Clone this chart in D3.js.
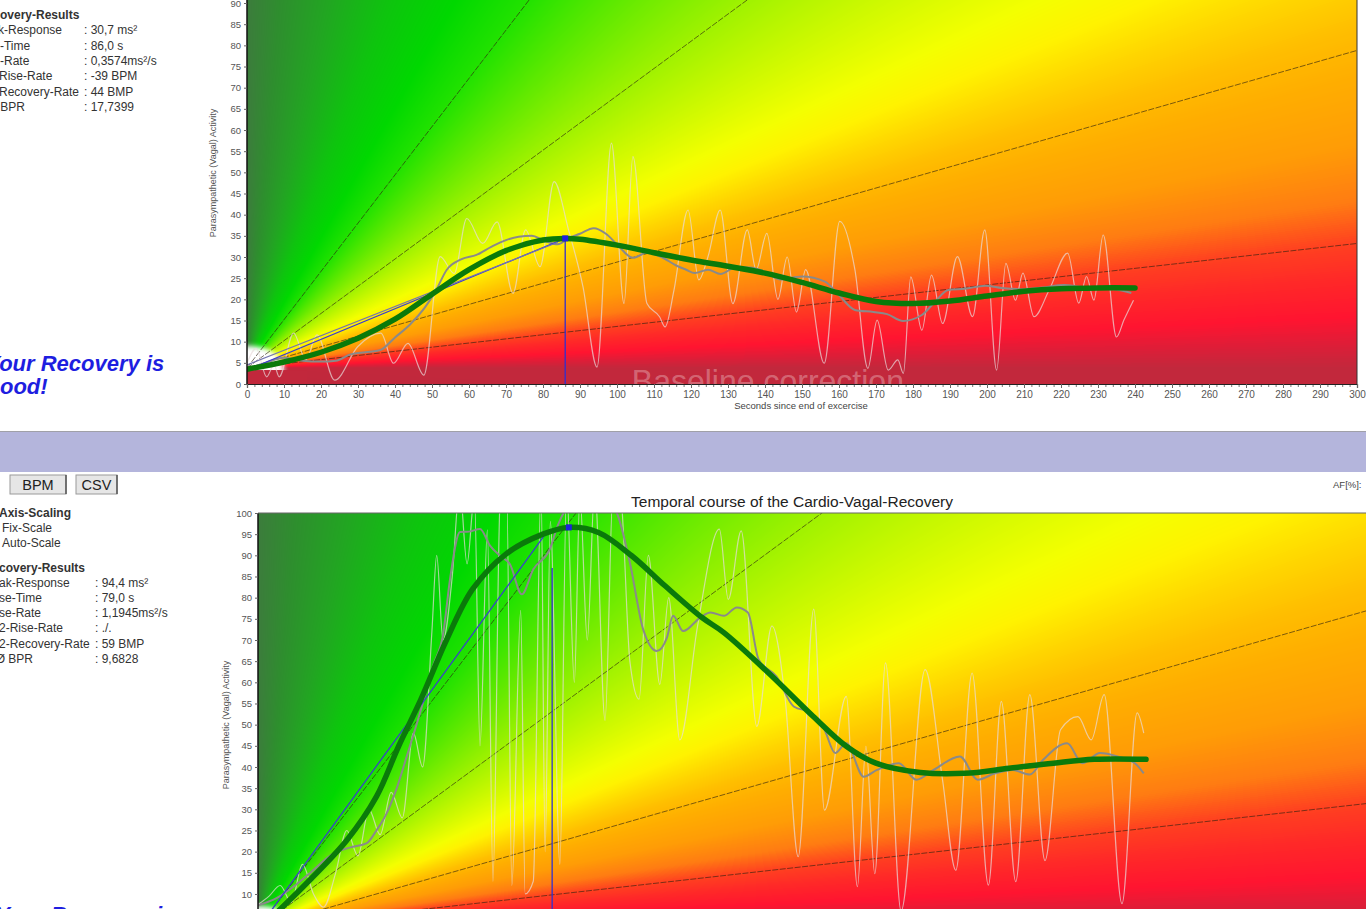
<!DOCTYPE html>
<html>
<head>
<meta charset="utf-8">
<script src="https://cdn.jsdelivr.net/npm/d3@7"></script>
<style>
body { margin: 0; background: #fff; overflow: hidden; }
svg { display: block; font-family: "Liberation Sans", Arial, sans-serif; }
</style>
</head>
<body>
<svg id="page" width="1366" height="909"></svg>
<script>
// ---------- data ----------
const xTicks = d3.range(0, 301, 10);
const xMinor = d3.range(0, 301, 2);
const topYTicks = d3.range(0, 91, 5);
const botYTicks = d3.range(10, 101, 5);

// rise-rate reference lines (slopes in units per second)
const zoneSlopes = [1.14, 0.643, 0.25, 0.098];
// background colour by angle (degrees, data space) above the baseline
const zoneAngles = [-90, 0, 1, 2.3, 4, 5.6, 7.5, 10, 13, 15, 17, 19.5, 22, 26, 32.7, 40, 48.7, 57, 66, 76, 84, 90];
const zoneColors = ["#b0283e", "#c2283c", "#dc1e38", "#ff1430", "#ff2828", "#ff4020", "#ff7c12", "#ff9c06",
  "#ffae00", "#ffbe00", "#ffd400", "#fff200", "#f4ff00", "#d4fa00", "#a0f200", "#66ea00", "#22e200",
  "#00d800", "#0ec40e", "#22a522", "#2e8e2e", "#3c7c3c"];

// upper plot (baseline corrected)
const topRaw = [[0,4.9],[2.5,8.4],[5.3,1.7],[7.3,4.5],[8.7,1.7],[12.6,12],[15.9,5.7],[18.9,11.6],[23.7,0.9],
  [29.9,8.8],[36.2,12],[39.6,4.9],[43.5,9.6],[47.8,2.1],[52.2,30.1],[56,26.1],[59.4,39.1],[63.7,33.2],
  [67.6,38.3],[71.9,21.4],[75.3,36.4],[79.2,27.7],[83,47.8],[86.9,36.4],[90.8,23],[94.6,4],[98.5,56.9],
  [101.9,19],[104.3,53.7],[108.1,19],[111.5,15.9],[113,13.5],[115.4,22.2],[119.2,41.1],[122.1,24.6],
  [124.6,30.1],[127.9,41.1],[131.3,19],[135.2,36.4],[137.6,27],[140.5,35.6],[143.5,20],[146,30],
  [148.5,17],[151,27],[156,4.9],[160.2,38.4],[164.3,27],[167.8,3.7],[170.3,15.1],[173.3,3.3],[175.9,5.7],
  [177.4,2.5],[179.4,25.3],[182.4,12.7],[185,25.7],[188,14.3],[192,30.1],[196.1,15.9],[199.4,36.4],
  [202.6,3.3],[205.1,28.5],[207.7,19.8],[209.7,26.2],[212.7,15.9],[216.8,22.2],[221.8,30.9],[224.8,19.1],
  [226.9,25.4],[228.9,19.8],[231.4,35.2],[235,11.1],[237,15.1],[239.6,19.8]];
const topMid = [[0,3.5],[5,5],[10,6.2],[15,5.5],[20,5.3],[24,5.5],[28,7],[32,7.5],[36,8],[40,11],[44,14],
  [48,18],[51,22],[54,27],[58,29.5],[62,30.5],[66,32.4],[70,34],[73.4,34.8],[77,35],[80,34],[84,33],
  [87,34.5],[90,35.5],[93.7,36.8],[97,35.5],[100,33],[104.3,29.8],[108,31],[112,30],[116,28],[118.7,27],
  [121,26.2],[124.6,27],[128,26],[132,27.5],[136,27.5],[140,26.5],[144,24.7],[150,25.4],[156.2,24.2],
  [160,21],[164.3,17.5],[169.3,17],[173,16.5],[177.3,14.9],[182.4,16.3],[186,19.5],[189.5,22.2],
  [194,22.5],[199.6,23.2],[204,22.7],[209.8,22.4],[215,22.8],[220.8,23.4],[225,23],[229.9,22.6],
  [235,22.3],[239,21.5]];
const topSmooth = [[0,3.5],[10,5.2],[20,7.5],[30,10.8],[40,15.3],[50,21.2],[60,27],[70,31.5],[80,34],
  [86,34.4],[90,34.2],[100,32.8],[110,31],[120,29.3],[130,27.8],[140,26.2],[150,24],[160,21.5],[170,19.5],
  [180,19],[190,19.6],[200,20.8],[210,21.9],[220,22.5],[230,22.7],[240,22.7]];
const topRise = [[[0,3.3],[86,34.4]], [[0,4.5],[84,33.5]]];
const topPeak = [86, 34.4];

// lower plot (temporal course)
const botRaw = [[0,7.5],[3,9.5],[6,12],[9,8],[12,17],[15,10],[17.7,6.9],[21,15],[24,25],[27,19],[30,30],
  [33,24],[36,34],[39,28],[42,48],[44.5,40],[47,72],[48.3,90],[50,70],[52.5,85],[54.5,106],[56.5,88],
  [58.5,104],[60,45],[62,96],[63.5,13],[65.5,104],[67.2,106],[68.6,12],[71,77],[72.2,10],[74.4,13],
  [76.5,106],[77.6,20],[79,98],[81.6,17],[83.4,106],[85.5,60],[87,104],[89,70],[91,106],[93.8,51],
  [96,106],[98,104],[100.5,65],[103,56],[105.5,90],[108.6,59.5],[111,80],[114,46.4],[118.8,73.3],
  [124.7,96.2],[127.1,79.6],[130.6,95.8],[134.8,49.6],[138.9,73.3],[142.5,55.9],[146,18.8],[150.2,77.3],
  [153.1,29.8],[159,56.7],[162,11.7],[164.3,44.9],[166.7,14.8],[169.6,64.6],[173.8,6],[180.3,63],
  [185,37],[188.6,15.6],[193,62.2],[197.4,12.1],[200.9,55.5],[204.8,12.9],[208.6,57.1],[212.7,17.9],
  [216.9,48.8],[221.6,51.9],[225.2,46.4],[228.7,57.1],[233.5,7.7],[237.6,52.8],[239.4,48]];
const botMid = [[0,7.3],[5,9],[10,12],[14,14.9],[20.4,19.6],[25,21],[29.4,22],[32,25],[34.8,29.1],
  [37.5,35],[40.2,42.5],[43.8,52.8],[47.3,63.8],[50.1,71.7],[51.9,84.4],[54.6,95.5],[57,95.6],[60,96.2],
  [62.7,92.3],[65.4,89.9],[68.1,87.9],[71.3,80.8],[74.4,86.7],[78.9,91.5],[81,97],[83.4,101],[88,103],
  [93,104],[97,100],[100.5,88.3],[104.1,72.5],[107.8,67.4],[110.5,70.5],[112.2,75.7],[114.9,72.1],
  [119.5,75.3],[122.3,76.5],[125.9,75.7],[129.4,77.7],[132.4,76.5],[135.3,65.4],[140.1,61.4],
  [144.8,54.3],[149.5,52.8],[153.1,48.8],[156,43.3],[159,45.6],[163.7,37.7],[167.3,39.3],[173.2,40.9],
  [177.9,37],[182.6,39.3],[189.7,42.5],[194.5,37],[199.2,38.5],[203.9,39.3],[208.6,38.2],[212.2,41.7],
  [218.7,45.6],[222.8,40.9],[227.6,43.3],[232.3,42.5],[237,40.9],[239.4,38.5]];
const botSmooth = [[0,1.5],[6,6.4],[14,13.3],[24,22.7],[32,33],[38,44.9],[44,55.9],[51,70.1],[58,82],
  [67,90.3],[77,95],[84,96.6],[92,95.4],[101,89.9],[110,82.8],[120,75.3],[126,71.7],[138,62.2],[150,52],
  [159,44.9],[167,40.9],[179,38.7],[191,38.5],[203,39.7],[215,40.9],[226,41.8],[240,41.8]];
const botRise = [[[0,1.8],[78,95.4]]];
const botPeak = [84, 96.6];

// side panel texts: [full text, hidden prefix, x of first visible char, bold]
const topLabels = [["Recovery-Results","Rec",0,true],["Peak-Response","Pea",-2],["Rise-Time","Rise",0],
  ["Rise-Rate","Rise",0],["HR2-Rise-Rate","HR2-",-1],["HR2-Recovery-Rate","HR2-",-1],["Ø BPR","Ø ",-3]];
const topValues = ["", "30,7 ms²", "86,0 s", "0,3574ms²/s", "-39 BPM", "44 BMP", "17,7399"];
const botLabels = [["Y-Axis-Scaling","Y-",-1,true],["Fix-Scale","",2],["Auto-Scale","",2],
  ["Recovery-Results","Re",-1,true],["Peak-Response","Pe",-1],["Rise-Time","Ri",-1],["Rise-Rate","Ri",-1],
  ["HR2-Rise-Rate","HR",-1],["HR2-Recovery-Rate","HR",-1],["Ø BPR","Ø ",5]];
const botValues = ["", "", "", "", "94,4 ms²", "79,0 s", "1,1945ms²/s", "./.", "59 BMP", "9,6828"];

// ---------- drawing ----------
const svg = d3.select("#page");
svg.append("rect").attr("width", 1366).attr("height", 909).attr("fill", "#fff");
const defs = svg.append("defs");
defs.append("filter").attr("id", "soft").append("feGaussianBlur").attr("stdDeviation", 2.5);

const zoneColor = d3.scaleLinear().domain(zoneAngles).range(zoneColors)
  .interpolate(d3.interpolateRgb).clamp(true);
const lut = d3.range(0, 1801).map(i => d3.rgb(zoneColor(i / 10 - 90)));

function zoneImage(x, y, base, px0, px1, py0, py1) {
  const w = px1 - px0, h = py1 - py0;
  const c = document.createElement("canvas");
  c.width = w; c.height = h;
  const ctx = c.getContext("2d");
  const img = ctx.createImageData(w, h);
  for (let j = 0; j < h; j++) {
    const v = y.invert(py0 + j + 0.5) - base;
    for (let i = 0; i < w; i++) {
      const t = x.invert(px0 + i + 0.5);
      const a = Math.atan2(v, t) * 180 / Math.PI;
      const col = lut[Math.max(0, Math.min(1800, Math.round((a + 90) * 10)))];
      const k = (j * w + i) * 4;
      img.data[k] = col.r; img.data[k + 1] = col.g; img.data[k + 2] = col.b; img.data[k + 3] = 255;
    }
  }
  ctx.putImageData(img, 0, 0);
  return c.toDataURL();
}

function clipLead(sel, full, prefix, visX) {
  let w = 0;
  if (prefix) { sel.text(prefix); w = sel.node().getComputedTextLength(); }
  sel.text(full).attr("x", visX - w);
}

function drawPlot(o) {
  const x = d3.scaleLinear().domain([0, 300]).range([o.left, o.left + 1110]);
  const y = d3.scaleLinear().domain([0, 100]).range([o.zero, o.zero - 423.3]);
  const id = "clip" + o.name;
  defs.append("clipPath").attr("id", id).append("rect")
    .attr("x", o.left).attr("y", o.top).attr("width", o.right - o.left).attr("height", o.bottom - o.top);
  const g = svg.append("g").attr("clip-path", `url(#${id})`);

  g.append("image")
    .attr("x", o.left).attr("y", o.top).attr("width", o.right - o.left).attr("height", o.bottom - o.top)
    .attr("preserveAspectRatio", "none")
    .attr("href", zoneImage(x, y, o.base, o.left, o.right, o.top, o.bottom));

  // pale patch near the origin
  g.append("ellipse").attr("cx", x(0.8)).attr("cy", y(o.base - 0.5))
    .attr("rx", 34).attr("ry", 24).attr("fill", "#fff").attr("filter", "url(#soft)");
  g.append("rect").attr("x", o.left).attr("y", y(o.base - 0.5)).attr("width", 60).attr("height", 60)
    .attr("fill", zoneColors[1]);

  if (o.watermark) {
    g.append("text").attr("x", x(104)).attr("y", o.zero + 8).attr("font-size", 32)
      .attr("fill", "#fff").attr("fill-opacity", 0.3).text(o.watermark);
  }

  const ln = d3.line().x(d => x(d[0])).y(d => y(d[1]));
  // reference rise-rate lines
  g.selectAll(".ref").data(zoneSlopes).join("path").attr("class", "ref")
    .attr("d", s => ln([[0, o.base], [300, o.base + 300 * s]]))
    .attr("fill", "none").attr("stroke", "#2e2210").attr("stroke-opacity", 0.7)
    .attr("stroke-width", 0.9).attr("stroke-dasharray", "6,1.5");

  const smooth = d3.line().x(d => x(d[0])).y(d => y(d[1])).curve(d3.curveMonotoneX);
  g.append("path").attr("d", smooth(o.raw)).attr("fill", "none")
    .attr("stroke", "#e8dcdc").attr("stroke-opacity", 0.7).attr("stroke-width", 1.2);
  g.append("path").attr("d", smooth(o.mid)).attr("fill", "none")
    .attr("stroke", "#8a8a8a").attr("stroke-width", 2);

  const riseCol = ["#3a3ad2", "#7474b0"];
  o.rise.forEach((r, i) => {
    g.append("path").attr("d", ln(r)).attr("fill", "none")
      .attr("stroke", riseCol[i]).attr("stroke-width", 1.2);
  });
  g.append("line").attr("x1", x(o.vline[0])).attr("x2", x(o.vline[0]))
    .attr("y1", y(0)).attr("y2", y(o.vline[1]))
    .attr("stroke", "#3030d0").attr("stroke-width", 1.3);

  g.append("path").attr("d", ln.curve(d3.curveCatmullRom)(o.smooth)).attr("fill", "none")
    .attr("stroke", "#0a7a0a").attr("stroke-width", 5.5).attr("stroke-linecap", "round");
  g.append("rect").attr("x", x(o.peak[0]) - 3).attr("y", y(o.peak[1]) - 3)
    .attr("width", 6).attr("height", 6).attr("fill", "#2020e0");

  // axes
  const ax = svg.append("g").attr("font-family", "Liberation Sans, Arial, sans-serif");
  ax.append("g").attr("transform", `translate(${o.left},0)`)
    .call(d3.axisLeft(y).tickValues(o.yTicks).tickSize(3).tickPadding(3))
    .call(a => a.select(".domain").attr("stroke", "#111").attr("stroke-width", 1.5)
      .attr("d", `M0,${o.top}V${Math.min(o.zero, 909)}`))
    .call(a => a.selectAll(".tick line").attr("stroke", "#666"))
    .call(a => a.selectAll(".tick text").attr("fill", "#555").attr("font-size", 9.5));
  if (o.xAxis) {
    ax.append("g").attr("transform", `translate(0,${o.zero})`)
      .call(d3.axisBottom(x).tickValues(xMinor).tickSize(3).tickFormat(""))
      .call(a => a.select(".domain").remove())
      .call(a => a.selectAll(".tick line").attr("stroke", "#777"));
    ax.append("g").attr("transform", `translate(0,${o.zero})`)
      .call(d3.axisBottom(x).tickValues(xTicks).tickSize(4).tickPadding(3))
      .call(a => a.select(".domain").attr("stroke", "#222").attr("stroke-width", 1.2))
      .call(a => a.selectAll(".tick line").attr("stroke", "#666"))
      .call(a => a.selectAll(".tick text").attr("fill", "#555").attr("font-size", 10));
    svg.append("line").attr("x1", o.right).attr("x2", o.right).attr("y1", o.top).attr("y2", o.zero)
      .attr("stroke", "#333");
  }

  svg.append("text").attr("transform", `translate(${o.ylabX},${o.ylabY}) rotate(-90)`)
    .attr("text-anchor", "middle").attr("font-size", 9).attr("fill", "#555")
    .text("Parasympathetic (Vagal) Activity");
  return x;
}

// upper plot
drawPlot({ name: "Top", left: 247, right: 1357, top: 0, bottom: 384, zero: 384, base: 3.8,
  raw: topRaw, mid: topMid, smooth: topSmooth, rise: topRise, peak: topPeak, vline: topPeak,
  watermark: "Baseline correction", ylabX: 216, ylabY: 173, yTicks: topYTicks, xAxis: true });
svg.append("text").attr("x", 801).attr("y", 409).attr("text-anchor", "middle")
  .attr("font-size", 9.5).attr("fill", "#444").text("Seconds since end of excercise");

// separator band
svg.append("rect").attr("x", 0).attr("y", 432).attr("width", 1366).attr("height", 40).attr("fill", "#b4b5dc");
svg.append("line").attr("x1", 0).attr("x2", 1366).attr("y1", 431.5).attr("y2", 431.5).attr("stroke", "#a0a0a8");

// lower plot
drawPlot({ name: "Bot", left: 258, right: 1366, top: 513, bottom: 909, zero: 936.3, base: 2,
  raw: botRaw, mid: botMid, smooth: botSmooth, rise: botRise, peak: botPeak, vline: [79.5, 87],
  watermark: null, ylabX: 229, ylabY: 725, yTicks: botYTicks, xAxis: false });
svg.append("line").attr("x1", 258).attr("x2", 1366).attr("y1", 513).attr("y2", 513)
  .attr("stroke", "#666").attr("stroke-width", 1.2);
svg.append("text").attr("x", 792).attr("y", 507).attr("text-anchor", "middle")
  .attr("font-size", 15.5).attr("fill", "#222").text("Temporal course of the Cardio-Vagal-Recovery");
svg.append("text").attr("x", 1333).attr("y", 488).attr("font-size", 9.5).attr("fill", "#444").text("AF[%]:");

// buttons
[["BPM", 10, 56], ["CSV", 76, 41]].forEach(([t, bx, bw]) => {
  svg.append("rect").attr("x", bx).attr("y", 475).attr("width", bw).attr("height", 19)
    .attr("fill", "#e6e6e6").attr("stroke", "#9a9a9a");
  svg.append("line").attr("x1", bx + bw).attr("x2", bx + bw).attr("y1", 475).attr("y2", 494)
    .attr("stroke", "#555").attr("stroke-width", 1.5);
  svg.append("text").attr("x", bx + bw / 2).attr("y", 490).attr("text-anchor", "middle")
    .attr("font-size", 14.5).attr("fill", "#222").text(t);
});

// side panels
function panel(labels, values, y0, step, valX, skipRows) {
  labels.forEach((l, i) => {
    const yy = y0 + i * step + (i >= skipRows ? 9 : 0);
    const t = svg.append("text").attr("y", yy).attr("font-size", 12).attr("fill", "#333")
      .attr("font-weight", l[3] ? "bold" : "normal");
    clipLead(t, l[0], l[1], l[2]);
    if (values[i]) {
      svg.append("text").attr("x", valX).attr("y", yy).attr("font-size", 12).attr("fill", "#333")
        .text(": " + values[i]);
    }
  });
}
panel(topLabels, topValues, 19, 15.3, 84, 99);
panel(botLabels, botValues, 517, 15.2, 95, 3);

function verdict(yy, visX) {
  const style = s => s.attr("font-size", 22).attr("font-weight", "bold").attr("font-style", "italic")
    .attr("fill", "#1e1ee0");
  clipLead(svg.append("text").attr("y", yy).call(style), "Your Recovery is", "Y", visX);
  clipLead(svg.append("text").attr("y", yy + 23).call(style), "good!", "g", visX);
}
verdict(371, 0);
verdict(922, 10);
</script>
</body>
</html>
